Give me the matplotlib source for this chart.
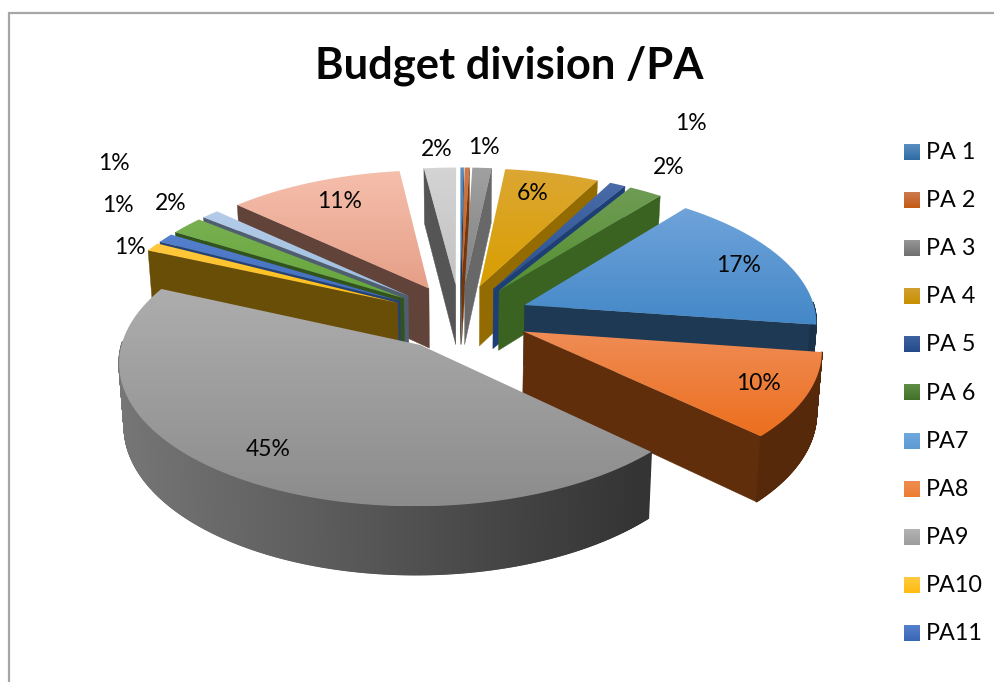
import numpy as np
import matplotlib
matplotlib.use("Agg")
import matplotlib.pyplot as plt
from matplotlib.collections import PolyCollection
from matplotlib.colors import LinearSegmentedColormap, to_rgb
from matplotlib.patches import Polygon

plt.rcParams["font.family"] = ["Lato", "DejaVu Sans"]

TITLE = "Budget division /PA"
categories = ["PA 1", "PA 2", "PA 3", "PA 4", "PA 5", "PA 6", "PA7", "PA8", "PA9",
              "PA10", "PA11", "PA12", "PA13", "PA14", "PA15"]
shares = [0.2, 0.3, 1.2, 5.9, 1.0, 2.1, 16.6, 9.8, 44.6,
          1.0, 1.1, 2.1, 1.1, 11.0, 2.0]
legend_count = 11

# gradient ends for each top face: upper colour, lower colour
top_colors = [("#5a8fc0", "#2e6ca4"), ("#cc7a50", "#c55a11"), ("#a0a0a0", "#828282"),
              ("#dca733", "#d99e00"), ("#4a6ca8", "#264f94"), ("#6f9c55", "#559030"),
              ("#6fa3da", "#4488c8"), ("#ef8c55", "#ec6f1e"), ("#adadad", "#8c8c8c"),
              ("#ffc840", "#ffbe10"), ("#5580cc", "#3f6cc0"), ("#78b050", "#66a63c"),
              ("#b4cce8", "#9dbde0"), ("#f5bfac", "#e69f88"), ("#d4d4d4", "#c2c2c2")]
# brightness of each radial side wall relative to its top face
wall_shade = [0.6, 0.6, 0.8, 0.68, 0.8, 0.68, 0.42, 0.41, 0.41,
              0.41, 0.6, 0.5, 0.5, 0.42, 0.44]
legend_colors = [("#5a8fc0", "#2e6ca4"), ("#cc7a50", "#c55a11"), ("#969696", "#6f6f6f"),
                 ("#d0a030", "#c89000"), ("#3f62a0", "#234a8a"), ("#5f8f45", "#43702a"),
                 ("#6fa8dc", "#5b9bd5"), ("#f08c50", "#ed7d31"), ("#b4b4b4", "#9c9c9c"),
                 ("#ffca40", "#ffbc10"), ("#5580cc", "#3a66b8")]

# label anchors in figure pixels, one per labelled share
label_xy = {2: (484, 148), 3: (533, 193), 4: (691, 123), 5: (669, 168), 6: (739, 266),
            7: (758, 384), 8: (268, 450), 9: (130, 247), 10: (118, 205), 11: (171, 203),
            12: (114, 163), 13: (340, 201), 14: (437, 149)}

# projection of the tilted, exploded pie
CX, CY = 460.0, 317.0
RADIUS = 292.0
FLAT = 137.0
PERSPECTIVE = 0.11
EXPLODE = 0.24
START_ANGLE = 0.0


def project(px, py):
    scale = 1.0 / (1.0 - PERSPECTIVE * py)
    return CX + RADIUS * px * scale, CY + FLAT * py * scale


def drop(x, y):
    """Screen position of the underside below a top-face point."""
    depth = 55.0 + (y - 170.0) * 0.04
    return CX + (x - CX) * 0.985, y + depth


def darker(color, factor):
    return tuple(c * factor for c in to_rgb(color))


fig = plt.figure(figsize=(9.95, 6.82), dpi=100, facecolor="white")
ax = fig.add_axes([0, 0, 1, 1])


def gradient(x0, x1, y0, y1, colors, clip=None, z=1):
    cmap = LinearSegmentedColormap.from_list("face", list(colors))
    im = ax.imshow(np.linspace(0, 1, 64)[:, None], cmap=cmap, extent=(x0, x1, y1, y0),
                   aspect="auto", interpolation="bilinear", zorder=z)
    if clip is not None:
        im.set_clip_path(clip)
    return im


def draw_slice(i, z):
    start = START_ANGLE + 360.0 * sum(shares[:i]) / sum(shares)
    stop = start + 360.0 * shares[i] / sum(shares)
    mid = np.radians((start + stop) / 2)
    ox, oy = EXPLODE * np.sin(mid), -EXPLODE * np.cos(mid)
    base = top_colors[i][1]

    theta = np.radians(np.linspace(start, stop, max(int(stop - start) * 4, 4)))
    rim = np.array([project(ox + np.sin(t), oy - np.cos(t)) for t in theta])
    apex = np.array(project(ox, oy))

    # radial wall that faces the viewer
    edge = None
    if stop < 180:
        edge = rim[-1]
    elif start > 180:
        edge = rim[0]
    if edge is not None:
        wall = [apex, edge, drop(*edge), drop(*apex)]
        tone = darker(base, wall_shade[i])
        ax.add_patch(Polygon(wall, closed=True, fc=tone, ec=tone, lw=0.3, zorder=z))

    # curved outer wall, shaded across the width of the pie
    facets, shades = [], []
    for a, b, ta in zip(rim[:-1], rim[1:], theta[:-1]):
        if np.cos(ta) < 0.02:
            facets.append([a, b, drop(*b), drop(*a)])
            f = np.clip(0.84 - (a[0] - 120.0) / 530.0 * 0.48, 0.37, 0.84)
            shades.append(darker(base, f))
    if facets:
        ax.add_collection(PolyCollection(facets, facecolors=shades, edgecolors=shades,
                                         linewidths=1.0, zorder=z + 0.1))

    # top face
    outline = np.vstack([apex, rim])
    face = Polygon(outline, closed=True, fc="none", ec="none", transform=ax.transData)
    ax.add_patch(face)
    gradient(outline[:, 0].min(), outline[:, 0].max(), outline[:, 1].min(), outline[:, 1].max(),
             top_colors[i], clip=face, z=z + 0.2)


# back-left group first, then clockwise from the top, the large front slice last
order = [14, 13, 12, 11, 10, 9, 0, 1, 2, 3, 4, 5, 6, 7, 8]
for n, idx in enumerate(order):
    draw_slice(idx, 2 + n)

for idx, (lx, ly) in label_xy.items():
    ax.text(lx, ly, f"{round(shares[idx])}%", ha="center", va="center",
            fontsize=16.5, color="#050505", zorder=40)

ax.text(509, 66, TITLE, ha="center", va="center", fontsize=31.3, fontweight="bold",
        color="#050505", zorder=40)

# legend column
for i in range(legend_count):
    y = 152 + i * 48.1
    gradient(904, 920, y - 8, y + 8, legend_colors[i], z=30)
    ax.text(926, y + 0.5, categories[i], ha="left", va="center", fontsize=16.8, color="#050505", zorder=40)

# chart frame, open towards the right and bottom edges
ax.plot([8.5, 8.5, 995], [682, 12.5, 12.5], color="#a6a6a6", lw=1.6, zorder=50, solid_joinstyle="miter")

ax.set_xlim(0, 995)
ax.set_ylim(682, 0)
ax.axis("off")
fig.savefig("out.png", dpi=100, facecolor="white")
